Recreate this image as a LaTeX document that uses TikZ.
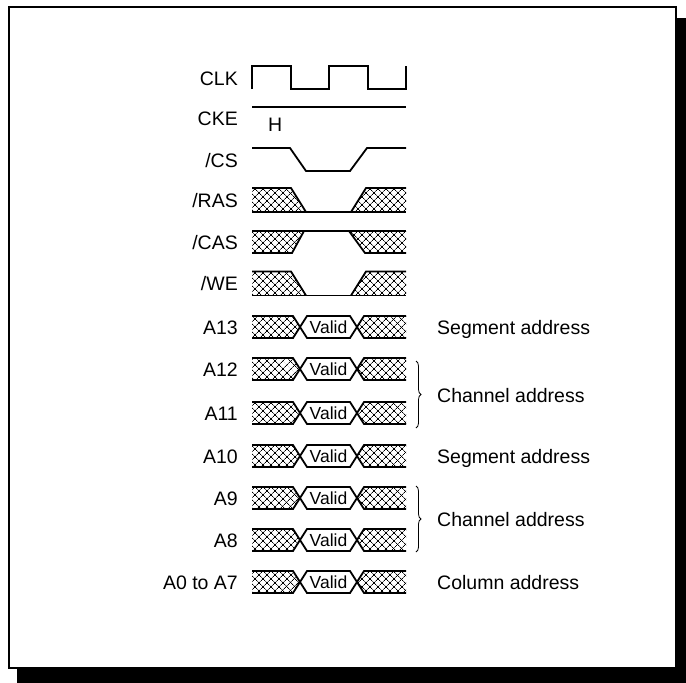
\documentclass[tikz,border=0pt]{standalone}
\usepackage{fontspec}
\setmainfont{Liberation Sans}
\usepackage{tikz}
\usetikzlibrary{
  patterns.meta,
  decorations.pathreplacing
}
\tikzset{
  siglbl/.style = {anchor=base east, inner sep=0pt, font=\fontsize{19.5}{22}\selectfont},
  note/.style   = {anchor=base west, inner sep=0pt, font=\fontsize{19.5}{22}\selectfont},
  valid/.style  = {anchor=base, inner sep=0pt, font=\fontsize{17.5}{20}\selectfont},
  wave/.style   = {draw=black, line width=1.8pt, line join=miter},
  hatch/.style  = {
    pattern={Lines[angle=45, distance=5.4pt, line width=0.8pt]},
    postaction={pattern={Lines[angle=-45, distance=5.4pt, line width=0.8pt]}}
  },
  frame/.style  = {draw=black, line width=2.5pt, fill=white},
  brc/.style    = {draw=black, line width=0.8pt, decorate,
                   decoration={brace, amplitude=5pt}},
}

\begin{document}
\begin{tikzpicture}[x=1pt, y=-1pt]
  \useasboundingbox (0,0) rectangle (686,683);

  %% ── Frame with drop shadow ─────────────────────────────────────────
  \fill[black] (17,18) rectangle (686,683);
  \draw[frame] (9,7) rectangle (676,668);

  %% ── Clock and clock enable ─────────────────────────────────────────
  \node[siglbl] (lclk) at (238,85) {CLK};
  \draw[wave] (252,89) -- (252,66) -- (291,66) -- (291,89) -- (329,89)
    -- (329,66) -- (368,66) -- (368,89) -- (406,89) -- (406,66);

  \node[siglbl] (lcke) at (238,125) {CKE};
  \draw[wave] (252,107) -- (406,107);
  \node[note] (hlvl) at (268,131) {H};

  %% ── Chip select ────────────────────────────────────────────────────
  \node[siglbl] (lcs) at (238,167) {/CS};
  \draw[wave] (252,148) -- (290,148) -- (306,171) -- (350,171)
    -- (367,148) -- (406,148);

  %% ── Command lines (low / high) ─────────────────────────────────────
  \foreach \nm/\lb/\y in {ras/{/RAS}/200, we/{/WE}/283.5} {
    \node[siglbl] (l\nm) at (238,\y+7) {\lb};
    \fill[hatch] (252,\y-12) -- (291,\y-12) -- (306,\y+12) -- (252,\y+12) -- cycle;
    \fill[hatch] (351,\y+12) -- (366,\y-12) -- (406,\y-12) -- (406,\y+12) -- cycle;
    \draw[wave] (252,\y+12) -- (406,\y+12);
    \draw[wave] (252,\y-12) -- (291,\y-12) -- (306,\y+12);
    \draw[wave] (351,\y+12) -- (366,\y-12) -- (406,\y-12);
  }

  \node[siglbl] (lcas) at (238,249) {/CAS};
  \fill[hatch] (252,231) -- (304,231) -- (292,253) -- (252,253) -- cycle;
  \fill[hatch] (349,231) -- (406,231) -- (406,253) -- (365,253) -- cycle;
  \draw[wave] (252,231) -- (406,231);
  \draw[wave] (252,253) -- (292,253) -- (304,231);
  \draw[wave] (349,231) -- (365,253) -- (406,253);

  %% ── Address bus ────────────────────────────────────────────────────
  \foreach \nm/\lb/\y in {a13/A13/327, a12/A12/369, a11/A11/413,
                         a10/A10/456, a9/A9/498, a8/A8/540,
                         a0/A0 to A7/582} {
    \node[siglbl] (l\nm) at (238,\y+7) {\lb};
    \fill[hatch] (252,\y-11) -- (293,\y-11) -- (300,\y) -- (293,\y+11)
      -- (252,\y+11) -- cycle;
    \fill[hatch] (406,\y-11) -- (364,\y-11) -- (357,\y) -- (364,\y+11)
      -- (406,\y+11) -- cycle;
    \draw[wave] (252,\y-11) -- (293,\y-11) -- (307,\y+11) -- (350,\y+11)
      -- (364,\y-11) -- (406,\y-11);
    \draw[wave] (252,\y+11) -- (293,\y+11) -- (307,\y-11) -- (350,\y-11)
      -- (364,\y+11) -- (406,\y+11);
    \node[valid] (v\nm) at (328.5,\y+6.5) {Valid};
  }

  %% ── Address meaning ────────────────────────────────────────────────
  \coordinate (b1top) at (416,361);
  \coordinate (b1bot) at (416,428);
  \coordinate (b2top) at (416,486);
  \coordinate (b2bot) at (416,552);
  \draw[brc] (b1top) -- (b1bot);
  \draw[brc] (b2top) -- (b2bot);

  \node[note] (seg1) at (437,334) {Segment address};
  \node[note] (chn1) at (437,402) {Channel address};
  \node[note] (seg2) at (437,463) {Segment address};
  \node[note] (chn2) at (437,526) {Channel address};
  \node[note] (col)  at (437,589) {Column address};

\end{tikzpicture}
\end{document}
